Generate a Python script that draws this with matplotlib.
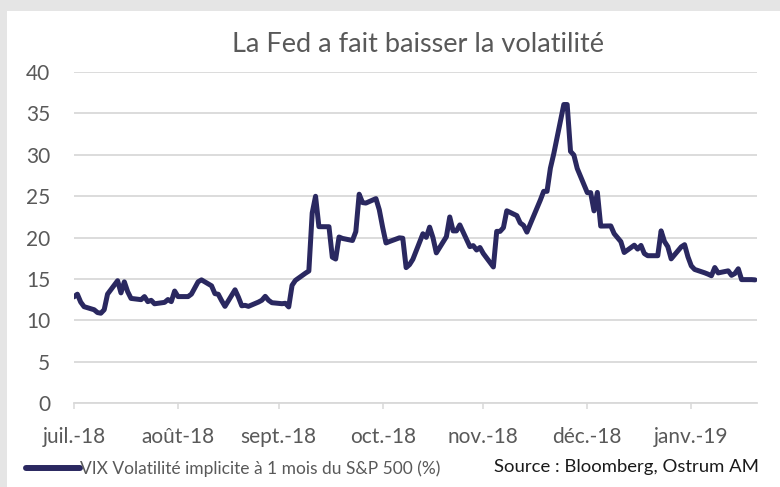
import matplotlib
matplotlib.use("Agg")
import matplotlib.pyplot as plt
from matplotlib.patches import Rectangle
import pandas as pd

plt.rcParams['font.family'] = ['Lato', 'DejaVu Sans']

# ---- data (VIX, daily values; holidays carry the previous value) ----
dates = [
    "2018-07-31",
    "2018-08-01", "2018-08-02", "2018-08-03", "2018-08-06", "2018-08-07", "2018-08-08", "2018-08-09",
    "2018-08-10", "2018-08-13", "2018-08-14", "2018-08-15", "2018-08-16", "2018-08-17", "2018-08-20",
    "2018-08-21", "2018-08-22", "2018-08-23", "2018-08-24", "2018-08-27", "2018-08-28", "2018-08-29",
    "2018-08-30", "2018-08-31",
    "2018-09-03", "2018-09-04", "2018-09-05", "2018-09-06", "2018-09-07", "2018-09-10", "2018-09-11",
    "2018-09-12", "2018-09-13", "2018-09-14", "2018-09-17", "2018-09-18", "2018-09-19", "2018-09-20",
    "2018-09-21", "2018-09-24", "2018-09-25", "2018-09-26", "2018-09-27", "2018-09-28",
    "2018-10-01", "2018-10-02", "2018-10-03", "2018-10-04", "2018-10-05", "2018-10-08", "2018-10-09",
    "2018-10-10", "2018-10-11", "2018-10-12", "2018-10-15", "2018-10-16", "2018-10-17", "2018-10-18",
    "2018-10-19", "2018-10-22", "2018-10-23", "2018-10-24", "2018-10-25", "2018-10-26", "2018-10-29",
    "2018-10-30", "2018-10-31",
    "2018-11-01", "2018-11-02", "2018-11-05", "2018-11-06", "2018-11-07", "2018-11-08", "2018-11-09",
    "2018-11-12", "2018-11-13", "2018-11-14", "2018-11-15", "2018-11-16", "2018-11-19", "2018-11-20",
    "2018-11-21", "2018-11-22", "2018-11-23", "2018-11-26", "2018-11-27", "2018-11-28", "2018-11-29",
    "2018-11-30",
    "2018-12-03", "2018-12-04", "2018-12-05", "2018-12-06", "2018-12-07", "2018-12-10", "2018-12-11",
    "2018-12-12", "2018-12-13", "2018-12-14", "2018-12-17", "2018-12-18", "2018-12-19", "2018-12-20",
    "2018-12-21", "2018-12-24", "2018-12-25", "2018-12-26", "2018-12-27", "2018-12-28", "2018-12-31",
    "2019-01-01", "2019-01-02", "2019-01-03", "2019-01-04", "2019-01-07", "2019-01-08", "2019-01-09",
    "2019-01-10", "2019-01-11", "2019-01-14", "2019-01-15", "2019-01-16", "2019-01-17", "2019-01-18",
    "2019-01-21", "2019-01-22", "2019-01-23", "2019-01-24", "2019-01-25", "2019-01-28", "2019-01-29",
    "2019-01-30", "2019-01-31",
    "2019-02-01", "2019-02-04", "2019-02-05", "2019-02-06", "2019-02-07", "2019-02-08", "2019-02-11",
    "2019-02-12", "2019-02-13", "2019-02-14", "2019-02-15", "2019-02-18", "2019-02-19",
]
vix = [
    12.83,
    13.15, 12.19, 11.64, 11.27, 10.93, 10.85, 11.27,
    13.16, 14.78, 13.31, 14.64, 13.45, 12.64, 12.49,
    12.86, 12.25, 12.41, 11.99, 12.16, 12.50, 12.25,
    13.53, 12.86,
    12.86, 13.16, 13.91, 14.65, 14.88, 14.16, 13.22,
    13.14, 12.37, 11.68, 13.68, 12.79, 11.75, 11.80,
    11.68, 12.20, 12.42, 12.89, 12.41, 12.12,
    12.00, 12.05, 11.61, 14.22, 14.82, 15.69, 15.95,
    22.96, 24.98, 21.31, 21.30, 17.62, 17.40, 20.06,
    19.89, 19.64, 20.71, 25.23, 24.22, 24.16, 24.70,
    23.35, 21.23,
    19.34, 19.51, 19.96, 19.91, 16.36, 16.72, 17.36,
    20.45, 20.02, 21.25, 19.98, 18.14, 20.10, 22.48,
    20.80, 20.80, 21.52, 18.90, 19.02, 18.49, 18.79,
    18.07,
    16.44, 20.74, 20.74, 21.19, 23.23, 22.64, 21.76,
    21.46, 20.65, 21.63, 24.52, 25.58, 25.58, 28.38,
    30.11, 36.07, 36.07, 30.41, 29.96, 28.34, 25.42,
    25.42, 23.22, 25.45, 21.38, 21.40, 20.47, 19.98,
    19.50, 18.19, 19.07, 18.60, 19.04, 18.06, 17.80,
    17.80, 20.80, 19.52, 18.89, 17.42, 18.87, 19.13,
    17.66, 16.57,
    16.14, 15.73, 15.57, 15.38, 16.37, 15.72, 15.97,
    15.43, 15.65, 16.22, 14.91, 14.91, 14.88,
]
tick_dates = ["2018-07-31", "2018-08-31", "2018-09-30", "2018-10-31",
              "2018-11-30", "2018-12-31", "2019-01-31"]
tick_labels = ["juil.-18", "août-18", "sept.-18", "oct.-18",
               "nov.-18", "déc.-18", "janv.-19"]
y_ticks = [0, 5, 10, 15, 20, 25, 30, 35, 40]

title = "La Fed a fait baisser la volatilité"
series_name = "VIX Volatilité implicite à 1 mois du S&P 500 (%)"
source = "Source : Bloomberg, Ostrum AM"

# ---- figure ----
W, H = 780, 487
fig = plt.figure(figsize=(W / 100, H / 100), dpi=100)
fig.patch.set_facecolor('#E5E5E5')
fig.patches.append(Rectangle((7 / W, 0), 1, (H - 11) / H, transform=fig.transFigure,
                             facecolor='white', edgecolor='none', zorder=-10))

ax = fig.add_axes([74 / W, (H - 403) / H, (757 - 74) / W, (403 - 72) / H])
ax.set_facecolor('none')
ax.set_zorder(5)

x = pd.to_datetime(dates)
line_color = '#2A2860'
grid_color = '#D9D9D9'
text_color = '#595959'

ax.plot(x, vix, color=line_color, lw=3.6, solid_joinstyle='round',
        solid_capstyle='round', label=series_name, zorder=3)

ax.set_ylim(0, 40)
ax.set_yticks(y_ticks)
ax.set_xlim(pd.Timestamp(tick_dates[0]), x[-1] + pd.Timedelta(hours=14))
ax.set_xticks(pd.to_datetime(tick_dates))
ax.set_xticklabels(tick_labels)

ax.set_axisbelow(True)
ax.grid(axis='y', color=grid_color, lw=1.3)
for s in ['left', 'right', 'top']:
    ax.spines[s].set_visible(False)
ax.spines['bottom'].set_color(grid_color)
ax.spines['bottom'].set_linewidth(1.3)

ax.tick_params(axis='y', length=0, pad=17, labelsize=15, labelcolor=text_color)
ax.tick_params(axis='x', length=4.5, width=1.1, color=grid_color, pad=13,
               labelsize=15, labelcolor=text_color)

fig.text(418 / W, 1 - 45 / H, title, ha='center', va='center',
         fontsize=19.5, color=text_color)

leg = ax.legend(loc='center left', bbox_to_anchor=(26 / W, 1 - 469 / H),
                bbox_transform=fig.transFigure, frameon=False, borderpad=0,
                borderaxespad=0, handlelength=3.1, handletextpad=0.0,
                fontsize=12.5, labelcolor=text_color)
leg.get_lines()[0].set_linewidth(4.3)
leg.get_lines()[0].set_solid_capstyle('round')

fig.text(759 / W, 1 - 467 / H, source, ha='right', va='center',
         fontsize=13.3, color='#1A1A1A')

fig.savefig('out.png', dpi=100)
